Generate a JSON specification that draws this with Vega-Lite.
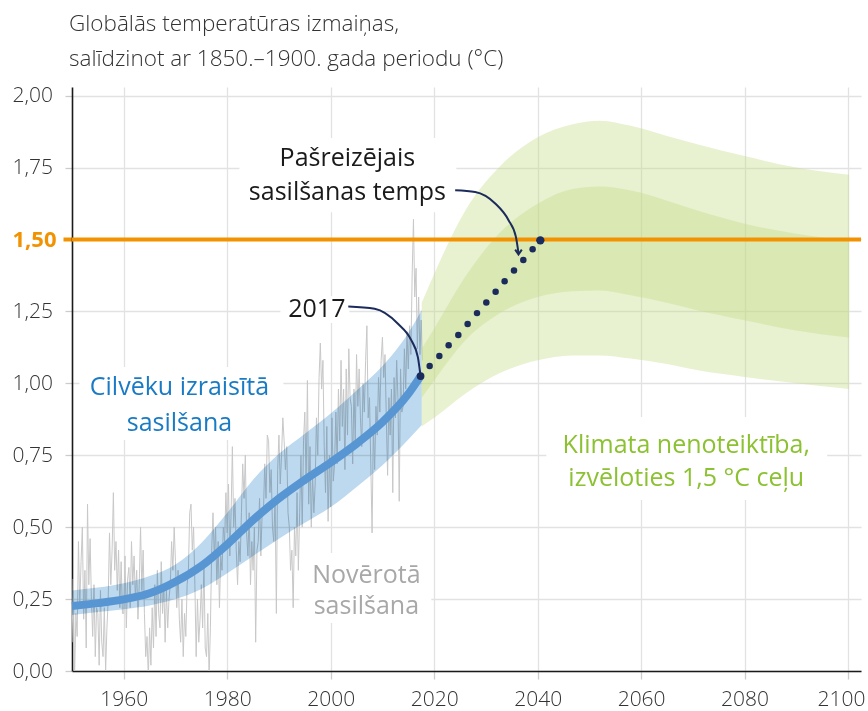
{
  "$schema": "https://vega.github.io/schema/vega-lite/v6.json",
  "width": 789,
  "height": 584,
  "autosize": {"type": "none"},
  "padding": {"left": 72, "top": 87, "right": 7, "bottom": 40},
  "background": "white",
  "title": {
    "text": ["Globālās temperatūras izmaiņas,", "salīdzinot ar 1850.–1900. gada periodu (°C)"],
    "anchor": "start", "frame": "group", "font": "Open Sans", "fontSize": 22.5, "fontWeight": 300,
    "color": "#333333", "lineHeight": 35, "offset": 14, "dx": -3
  },
  "config": {"view": {"stroke": null}, "font": "Open Sans"},
  "datasets": {
    "boxes": [
      {"year": 1982.36, "year2": 2024.29, "lo": 1.595, "hi": 1.853},
      {"year": 1990.28, "year2": 2003.61, "lo": 1.21, "hi": 1.303},
      {"year": 1951.45, "year2": 1990.86, "lo": 0.803, "hi": 1.057},
      {"year": 1993.95, "year2": 2019.45, "lo": 0.167, "hi": 0.41},
      {"year": 2041.67, "year2": 2095.96, "lo": 0.594, "hi": 0.883}
    ],
    "obs": [
      {"year":1950.00,"val":0.10},{"year":1950.25,"val":0.32},{"year":1950.50,"val":-0.02},{"year":1950.75,"val":0.20},
      {"year":1951.00,"val":0.12},{"year":1951.25,"val":0.45},{"year":1951.50,"val":0.22},{"year":1951.75,"val":0.38},
      {"year":1952.00,"val":0.50},{"year":1952.25,"val":0.18},{"year":1952.50,"val":0.35},{"year":1952.75,"val":0.08},
      {"year":1953.00,"val":0.58},{"year":1953.25,"val":0.30},{"year":1953.50,"val":0.46},{"year":1953.75,"val":0.25},
      {"year":1954.00,"val":0.12},{"year":1954.25,"val":0.30},{"year":1954.50,"val":0.05},{"year":1954.75,"val":0.22},
      {"year":1955.00,"val":0.20},{"year":1955.25,"val":0.02},{"year":1955.50,"val":0.28},{"year":1955.75,"val":0.10},
      {"year":1956.00,"val":0.05},{"year":1956.25,"val":0.22},{"year":1956.50,"val":0.00},{"year":1956.75,"val":0.15},
      {"year":1957.00,"val":0.25},{"year":1957.25,"val":0.48},{"year":1957.50,"val":0.30},{"year":1957.75,"val":0.42},
      {"year":1958.00,"val":0.62},{"year":1958.25,"val":0.35},{"year":1958.50,"val":0.45},{"year":1958.75,"val":0.28},
      {"year":1959.00,"val":0.42},{"year":1959.25,"val":0.22},{"year":1959.50,"val":0.38},{"year":1959.75,"val":0.20},
      {"year":1960.00,"val":0.20},{"year":1960.25,"val":0.40},{"year":1960.50,"val":0.15},{"year":1960.75,"val":0.32},
      {"year":1961.00,"val":0.36},{"year":1961.25,"val":0.22},{"year":1961.50,"val":0.45},{"year":1961.75,"val":0.30},
      {"year":1962.00,"val":0.40},{"year":1962.25,"val":0.25},{"year":1962.50,"val":0.35},{"year":1962.75,"val":0.18},
      {"year":1963.00,"val":0.30},{"year":1963.25,"val":0.50},{"year":1963.50,"val":0.28},{"year":1963.75,"val":0.42},
      {"year":1964.00,"val":0.20},{"year":1964.25,"val":0.05},{"year":1964.50,"val":0.12},{"year":1964.75,"val":-0.02},
      {"year":1965.00,"val":0.15},{"year":1965.25,"val":0.02},{"year":1965.50,"val":0.22},{"year":1965.75,"val":0.08},
      {"year":1966.00,"val":0.30},{"year":1966.25,"val":0.12},{"year":1966.50,"val":0.35},{"year":1966.75,"val":0.20},
      {"year":1967.00,"val":0.15},{"year":1967.25,"val":0.38},{"year":1967.50,"val":0.20},{"year":1967.75,"val":0.30},
      {"year":1968.00,"val":0.10},{"year":1968.25,"val":0.28},{"year":1968.50,"val":0.15},{"year":1968.75,"val":0.25},
      {"year":1969.00,"val":0.30},{"year":1969.25,"val":0.45},{"year":1969.50,"val":0.35},{"year":1969.75,"val":0.50},
      {"year":1970.00,"val":0.38},{"year":1970.25,"val":0.22},{"year":1970.50,"val":0.35},{"year":1970.75,"val":0.18},
      {"year":1971.00,"val":0.10},{"year":1971.25,"val":0.25},{"year":1971.50,"val":0.05},{"year":1971.75,"val":0.20},
      {"year":1972.00,"val":0.12},{"year":1972.25,"val":0.30},{"year":1972.50,"val":0.35},{"year":1972.75,"val":0.55},
      {"year":1973.00,"val":0.58},{"year":1973.25,"val":0.42},{"year":1973.50,"val":0.50},{"year":1973.75,"val":0.30},
      {"year":1974.00,"val":0.05},{"year":1974.25,"val":0.25},{"year":1974.50,"val":0.10},{"year":1974.75,"val":0.18},
      {"year":1975.00,"val":0.30},{"year":1975.25,"val":0.15},{"year":1975.50,"val":0.38},{"year":1975.75,"val":0.08},
      {"year":1976.00,"val":0.05},{"year":1976.25,"val":0.20},{"year":1976.50,"val":-0.02},{"year":1976.75,"val":0.15},
      {"year":1977.00,"val":0.42},{"year":1977.25,"val":0.55},{"year":1977.50,"val":0.40},{"year":1977.75,"val":0.50},
      {"year":1978.00,"val":0.30},{"year":1978.25,"val":0.45},{"year":1978.50,"val":0.22},{"year":1978.75,"val":0.40},
      {"year":1979.00,"val":0.35},{"year":1979.25,"val":0.50},{"year":1979.50,"val":0.45},{"year":1979.75,"val":0.62},
      {"year":1980.00,"val":0.48},{"year":1980.25,"val":0.65},{"year":1980.50,"val":0.40},{"year":1980.75,"val":0.55},
      {"year":1981.00,"val":0.78},{"year":1981.25,"val":0.50},{"year":1981.50,"val":0.60},{"year":1981.75,"val":0.42},
      {"year":1982.00,"val":0.30},{"year":1982.25,"val":0.45},{"year":1982.50,"val":0.38},{"year":1982.75,"val":0.55},
      {"year":1983.00,"val":0.72},{"year":1983.25,"val":0.60},{"year":1983.50,"val":0.75},{"year":1983.75,"val":0.48},
      {"year":1984.00,"val":0.40},{"year":1984.25,"val":0.55},{"year":1984.50,"val":0.30},{"year":1984.75,"val":0.45},
      {"year":1985.00,"val":0.35},{"year":1985.25,"val":0.50},{"year":1985.50,"val":0.10},{"year":1985.75,"val":0.42},
      {"year":1986.00,"val":0.45},{"year":1986.25,"val":0.60},{"year":1986.50,"val":0.40},{"year":1986.75,"val":0.55},
      {"year":1987.00,"val":0.55},{"year":1987.25,"val":0.72},{"year":1987.50,"val":0.60},{"year":1987.75,"val":0.82},
      {"year":1988.00,"val":0.80},{"year":1988.25,"val":0.62},{"year":1988.50,"val":0.70},{"year":1988.75,"val":0.50},
      {"year":1989.00,"val":0.45},{"year":1989.25,"val":0.60},{"year":1989.50,"val":0.20},{"year":1989.75,"val":0.70},
      {"year":1990.00,"val":0.82},{"year":1990.25,"val":0.65},{"year":1990.50,"val":0.75},{"year":1990.75,"val":0.88},
      {"year":1991.00,"val":0.80},{"year":1991.25,"val":0.70},{"year":1991.50,"val":0.78},{"year":1991.75,"val":0.55},
      {"year":1992.00,"val":0.50},{"year":1992.25,"val":0.35},{"year":1992.50,"val":0.42},{"year":1992.75,"val":0.22},
      {"year":1993.00,"val":0.50},{"year":1993.25,"val":0.40},{"year":1993.50,"val":0.62},{"year":1993.75,"val":0.35},
      {"year":1994.00,"val":0.55},{"year":1994.25,"val":0.75},{"year":1994.50,"val":0.50},{"year":1994.75,"val":0.80},
      {"year":1995.00,"val":0.90},{"year":1995.25,"val":0.65},{"year":1995.50,"val":1.01},{"year":1995.75,"val":0.58},
      {"year":1996.00,"val":0.78},{"year":1996.25,"val":0.50},{"year":1996.50,"val":0.68},{"year":1996.75,"val":0.55},
      {"year":1997.00,"val":0.65},{"year":1997.25,"val":0.88},{"year":1997.50,"val":0.75},{"year":1997.75,"val":1.02},
      {"year":1998.00,"val":1.14},{"year":1998.25,"val":0.98},{"year":1998.50,"val":1.08},{"year":1998.75,"val":0.78},
      {"year":1999.00,"val":0.62},{"year":1999.25,"val":0.85},{"year":1999.50,"val":0.52},{"year":1999.75,"val":0.75},
      {"year":2000.00,"val":0.57},{"year":2000.25,"val":0.88},{"year":2000.50,"val":0.66},{"year":2000.75,"val":0.72},
      {"year":2001.00,"val":0.90},{"year":2001.25,"val":0.72},{"year":2001.50,"val":0.98},{"year":2001.75,"val":0.80},
      {"year":2002.00,"val":1.08},{"year":2002.25,"val":0.85},{"year":2002.50,"val":0.98},{"year":2002.75,"val":0.70},
      {"year":2003.00,"val":1.05},{"year":2003.25,"val":0.82},{"year":2003.50,"val":1.12},{"year":2003.75,"val":0.95},
      {"year":2004.00,"val":0.92},{"year":2004.25,"val":0.72},{"year":2004.50,"val":0.98},{"year":2004.75,"val":0.80},
      {"year":2005.00,"val":1.10},{"year":2005.25,"val":0.92},{"year":2005.50,"val":1.05},{"year":2005.75,"val":0.88},
      {"year":2006.00,"val":0.78},{"year":2006.25,"val":1.00},{"year":2006.50,"val":0.90},{"year":2006.75,"val":1.08},
      {"year":2007.00,"val":1.20},{"year":2007.25,"val":0.88},{"year":2007.50,"val":0.95},{"year":2007.75,"val":0.72},
      {"year":2008.00,"val":0.48},{"year":2008.25,"val":0.85},{"year":2008.50,"val":0.70},{"year":2008.75,"val":0.92},
      {"year":2009.00,"val":0.82},{"year":2009.25,"val":1.02},{"year":2009.50,"val":0.90},{"year":2009.75,"val":1.08},
      {"year":2010.00,"val":1.16},{"year":2010.25,"val":1.02},{"year":2010.50,"val":1.10},{"year":2010.75,"val":0.88},
      {"year":2011.00,"val":0.68},{"year":2011.25,"val":0.95},{"year":2011.50,"val":0.82},{"year":2011.75,"val":0.98},
      {"year":2012.00,"val":0.62},{"year":2012.25,"val":1.02},{"year":2012.50,"val":0.88},{"year":2012.75,"val":1.08},
      {"year":2013.00,"val":0.95},{"year":2013.25,"val":0.59},{"year":2013.50,"val":1.05},{"year":2013.75,"val":0.90},
      {"year":2014.00,"val":0.92},{"year":2014.25,"val":1.12},{"year":2014.50,"val":0.98},{"year":2014.75,"val":1.18},
      {"year":2015.00,"val":1.05},{"year":2015.25,"val":1.20},{"year":2015.50,"val":1.10},{"year":2015.75,"val":1.38},
      {"year":2016.00,"val":1.57},{"year":2016.25,"val":1.30},{"year":2016.50,"val":1.40},{"year":2016.75,"val":1.12},
      {"year":2017.00,"val":1.30},{"year":2017.25,"val":1.10},{"year":2017.50,"val":1.22},{"year":2017.75,"val":1.08}
    ],
    "band": [
      {"year":1950,"lo":0.195,"hi":0.28},
      {"year":1955,"lo":0.205,"hi":0.29},
      {"year":1960,"lo":0.215,"hi":0.305},
      {"year":1965,"lo":0.228,"hi":0.33},
      {"year":1970,"lo":0.25,"hi":0.37},
      {"year":1975,"lo":0.285,"hi":0.445},
      {"year":1980,"lo":0.34,"hi":0.55},
      {"year":1985,"lo":0.40,"hi":0.665},
      {"year":1990,"lo":0.46,"hi":0.755},
      {"year":1995,"lo":0.515,"hi":0.825},
      {"year":2000,"lo":0.57,"hi":0.895},
      {"year":2005,"lo":0.64,"hi":0.975},
      {"year":2010,"lo":0.715,"hi":1.06},
      {"year":2015,"lo":0.805,"hi":1.175},
      {"year":2017.6,"lo":0.855,"hi":1.255}
    ],
    "human": [
      {"year":1950,"val":0.226},
      {"year":1955,"val":0.236},
      {"year":1960,"val":0.249},
      {"year":1965,"val":0.27},
      {"year":1970,"val":0.31},
      {"year":1975,"val":0.365},
      {"year":1980,"val":0.44},
      {"year":1985,"val":0.525},
      {"year":1990,"val":0.60},
      {"year":1995,"val":0.665},
      {"year":2000,"val":0.725},
      {"year":2005,"val":0.79},
      {"year":2010,"val":0.865},
      {"year":2015,"val":0.963},
      {"year":2017.37,"val":1.025}
    ],
    "proj": [
      {"year":2017.6,"olo":0.85,"ohi":1.28,"ilo":0.95,"ihi":1.12},
      {"year":2020,"olo":0.88,"ohi":1.38,"ilo":1.01,"ihi":1.19},
      {"year":2026,"olo":0.964,"ohi":1.60,"ilo":1.149,"ihi":1.37},
      {"year":2032.5,"olo":1.034,"ohi":1.75,"ilo":1.242,"ihi":1.52},
      {"year":2040,"olo":1.08,"ohi":1.855,"ilo":1.30,"ihi":1.624},
      {"year":2046.6,"olo":1.097,"ohi":1.90,"ilo":1.32,"ihi":1.675},
      {"year":2052,"olo":1.097,"ohi":1.913,"ilo":1.323,"ihi":1.684},
      {"year":2058,"olo":1.086,"ohi":1.895,"ilo":1.306,"ihi":1.67},
      {"year":2065,"olo":1.067,"ohi":1.86,"ilo":1.28,"ihi":1.635},
      {"year":2071,"olo":1.045,"ohi":1.83,"ilo":1.253,"ihi":1.60},
      {"year":2080,"olo":1.022,"ohi":1.79,"ilo":1.219,"ihi":1.555},
      {"year":2090,"olo":1.0,"ohi":1.75,"ilo":1.184,"ihi":1.52},
      {"year":2100.2,"olo":0.98,"ohi":1.725,"ilo":1.159,"ihi":1.497}
    ],
    "dots": [
      {"year":2017.37,"val":1.025,"s":60},
      {"year":2019.13,"val":1.060,"s":42},
      {"year":2021.0,"val":1.095,"s":42},
      {"year":2022.8,"val":1.132,"s":42},
      {"year":2024.67,"val":1.168,"s":42},
      {"year":2026.47,"val":1.206,"s":42},
      {"year":2028.28,"val":1.244,"s":42},
      {"year":2030.08,"val":1.281,"s":42},
      {"year":2031.88,"val":1.318,"s":42},
      {"year":2033.62,"val":1.355,"s":42},
      {"year":2035.43,"val":1.392,"s":42},
      {"year":2037.23,"val":1.429,"s":42},
      {"year":2039.03,"val":1.466,"s":42},
      {"year":2040.52,"val":1.497,"s":70}
    ],
    "curves": [
      {"g":"a","year":2003.4,"val":1.267},
      {"g":"a","year":2008.5,"val":1.259},
      {"g":"a","year":2013.0,"val":1.207},
      {"g":"a","year":2015.6,"val":1.149},
      {"g":"a","year":2016.85,"val":1.091},
      {"g":"a","year":2017.3,"val":1.035},
      {"g":"b","year":2024.06,"val":1.671},
      {"g":"b","year":2027.93,"val":1.665},
      {"g":"b","year":2031.8,"val":1.625},
      {"g":"b","year":2034.38,"val":1.567},
      {"g":"b","year":2035.8,"val":1.509},
      {"g":"b","year":2036.3,"val":1.452}
    ],
    "arrow": [{"year":2036.3,"val":1.448}],
    "limit": [{"val":1.5}]
  },
  "layer": [
    {
      "data": {"name": "boxes"},
      "mark": {"type": "rect", "fill": "white"},
      "encoding": {
        "x": {"field": "year", "type": "quantitative", "title": null,
          "scale": {"domain": [1950, 2102.5], "nice": false, "zero": false},
          "axis": {
            "values": [1960, 1980, 2000, 2020, 2040, 2060, 2080, 2100], "format": "d",
            "grid": true, "gridColor": "#e2e2e2", "gridWidth": 1.3,
            "domainColor": "#1a1a1a", "domainWidth": 1.6,
            "tickColor": "#cccccc", "tickSize": 8, "tickWidth": 1.3,
            "labelFont": "Open Sans", "labelFontSize": 21, "labelFontWeight": 300, "labelColor": "#333333",
            "labelBaseline": "alphabetic", "labelPadding": 26, "labelFlush": false,
            "labelOffset": {"condition": {"test": "datum.value == 2100", "value": -7}, "value": 0}
          }
        },
        "x2": {"field": "year2"},
        "y": {"field": "lo", "type": "quantitative", "title": null,
          "scale": {"domain": [0, 2.03], "nice": false, "zero": true},
          "axis": {
            "values": [0, 0.25, 0.5, 0.75, 1, 1.25, 1.5, 1.75, 2],
            "labelExpr": "replace(format(datum.value, '.2f'), '.', ',')",
            "grid": true, "gridColor": "#e2e2e2", "gridWidth": 1.3,
            "domainColor": "#1a1a1a", "domainWidth": 1.6,
            "tickColor": {"condition": {"test": "datum.value == 1.5", "value": "#f39200"}, "value": "#cccccc"},
            "tickWidth": {"condition": {"test": "datum.value == 1.5", "value": 4}, "value": 1.3},
            "tickSize": {"condition": {"test": "datum.value == 1.5", "value": 9}, "value": 7},
            "labelFont": "Open Sans",
            "labelFontSize": {"condition": {"test": "datum.value == 1.5", "value": 22}, "value": 21},
            "labelFontWeight": {"condition": {"test": "datum.value == 1.5", "value": 700}, "value": 300},
            "labelColor": {"condition": {"test": "datum.value == 1.5", "value": "#f39200"}, "value": "#333333"},
            "labelAlign": "left",
            "labelPadding": {"condition": {"test": "datum.value == 1.5", "value": 51}, "value": 53}
          }
        },
        "y2": {"field": "hi"}
      }
    },
    {
      "data": {"name": "obs"},
      "mark": {"type": "line", "stroke": "#c8c8c8", "strokeWidth": 1, "clip": true},
      "encoding": {
        "x": {"field": "year", "type": "quantitative", "title": null},
        "y": {"field": "val", "type": "quantitative", "title": null}
      }
    },
    {
      "data": {"name": "band"},
      "mark": {"type": "area", "fill": "#bcd9ef", "opacity": 1, "blend": "multiply", "interpolate": "monotone"},
      "encoding": {
        "x": {"field": "year", "type": "quantitative", "title": null},
        "y": {"field": "lo", "type": "quantitative", "title": null},
        "y2": {"field": "hi"}
      }
    },
    {
      "data": {"name": "proj"},
      "mark": {"type": "area", "fill": "#c5dc8a", "opacity": 0.4, "interpolate": "monotone"},
      "encoding": {
        "x": {"field": "year", "type": "quantitative", "title": null},
        "y": {"field": "olo", "type": "quantitative", "title": null},
        "y2": {"field": "ohi"}
      }
    },
    {
      "data": {"name": "proj"},
      "mark": {"type": "area", "fill": "#c5dc8a", "opacity": 0.4, "interpolate": "monotone"},
      "encoding": {
        "x": {"field": "year", "type": "quantitative", "title": null},
        "y": {"field": "ilo", "type": "quantitative", "title": null},
        "y2": {"field": "ihi"}
      }
    },
    {
      "data": {"name": "human"},
      "mark": {"type": "line", "stroke": "#5896d3", "strokeWidth": 8, "interpolate": "monotone"},
      "encoding": {
        "x": {"field": "year", "type": "quantitative", "title": null},
        "y": {"field": "val", "type": "quantitative", "title": null}
      }
    },
    {
      "data": {"name": "limit"},
      "mark": {"type": "rule", "stroke": "#f39200", "strokeWidth": 4},
      "encoding": {
        "y": {"field": "val", "type": "quantitative", "title": null}
      }
    },
    {
      "data": {"name": "curves"},
      "mark": {"type": "line", "stroke": "#1b2b5b", "strokeWidth": 2, "interpolate": "monotone"},
      "encoding": {
        "x": {"field": "year", "type": "quantitative", "title": null},
        "y": {"field": "val", "type": "quantitative", "title": null},
        "detail": {"field": "g", "type": "nominal"}
      }
    },
    {
      "data": {"name": "arrow"},
      "mark": {"type": "point", "shape": "M -0.7 -1 L 0 0 L 0.7 -1", "filled": false, "stroke": "#1b2b5b", "strokeWidth": 2, "size": 90, "opacity": 1},
      "encoding": {
        "x": {"field": "year", "type": "quantitative", "title": null},
        "y": {"field": "val", "type": "quantitative", "title": null}
      }
    },
    {
      "data": {"name": "dots"},
      "mark": {"type": "point", "filled": true, "fill": "#1b2b5b", "opacity": 1},
      "encoding": {
        "x": {"field": "year", "type": "quantitative", "title": null},
        "y": {"field": "val", "type": "quantitative", "title": null},
        "size": {"field": "s", "type": "quantitative", "scale": null}
      }
    },
    {
      "data": {"values": [{"year": 2003.23, "val": 1.755, "txt": "Pašreizējais\nsasilšanas temps"}]},
      "mark": {"type": "text", "font": "Open Sans", "fontSize": 25, "color": "#1a1a1a", "align": "center", "baseline": "alphabetic", "lineBreak": "\n", "lineHeight": 34},
      "encoding": {
        "x": {"field": "year", "type": "quantitative", "title": null},
        "y": {"field": "val", "type": "quantitative", "title": null},
        "text": {"field": "txt"}
      }
    },
    {
      "data": {"values": [{"year": 1997.33, "val": 1.23, "txt": "2017"}]},
      "mark": {"type": "text", "font": "Open Sans", "fontSize": 25, "color": "#1a1a1a", "align": "center", "baseline": "alphabetic"},
      "encoding": {
        "x": {"field": "year", "type": "quantitative", "title": null},
        "y": {"field": "val", "type": "quantitative", "title": null},
        "text": {"field": "txt"}
      }
    },
    {
      "data": {"values": [{"year": 1970.77, "val": 0.959, "txt": "Cilvēku izraisītā\nsasilšana"}]},
      "mark": {"type": "text", "font": "Open Sans", "fontSize": 25, "color": "#1a7bc5", "align": "center", "baseline": "alphabetic", "lineBreak": "\n", "lineHeight": 36},
      "encoding": {
        "x": {"field": "year", "type": "quantitative", "title": null},
        "y": {"field": "val", "type": "quantitative", "title": null},
        "text": {"field": "txt"}
      }
    },
    {
      "data": {"values": [{"year": 2006.9, "val": 0.306, "txt": "Novērotā\nsasilšana"}]},
      "mark": {"type": "text", "font": "Open Sans", "fontSize": 25, "color": "#a8a8a8", "align": "center", "baseline": "alphabetic", "lineBreak": "\n", "lineHeight": 31},
      "encoding": {
        "x": {"field": "year", "type": "quantitative", "title": null},
        "y": {"field": "val", "type": "quantitative", "title": null},
        "text": {"field": "txt"}
      }
    },
    {
      "data": {"values": [{"year": 2068.72, "val": 0.758, "txt": "Klimata nenoteiktība,\nizvēloties 1,5 °C ceļu"}]},
      "mark": {"type": "text", "font": "Open Sans", "fontSize": 25, "color": "#8cc131", "align": "center", "baseline": "alphabetic", "lineBreak": "\n", "lineHeight": 33},
      "encoding": {
        "x": {"field": "year", "type": "quantitative", "title": null},
        "y": {"field": "val", "type": "quantitative", "title": null},
        "text": {"field": "txt"}
      }
    }
  ]
}
